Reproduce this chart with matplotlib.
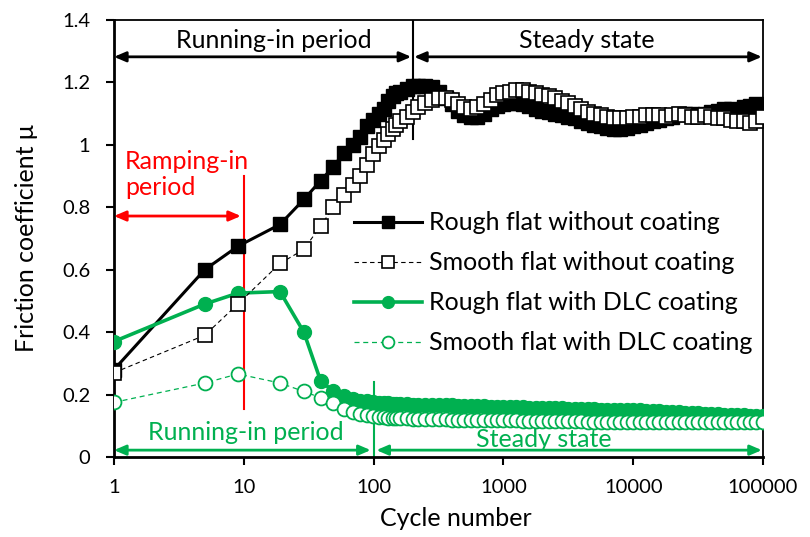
import matplotlib
matplotlib.use("Agg")
import matplotlib.pyplot as plt

plt.rcParams["font.family"] = ["Lato", "DejaVu Sans"]

GREEN = "#00B050"
RED = "#FF0000"

# cycle numbers at which friction was sampled
cycles = [1, 5, 9, 19, 29, 39, 49, 59, 69, 79, 89, 99,
          110, 120, 130, 140, 150, 160, 180, 200, 220, 250, 280, 320, 360, 400,
          450, 500, 560, 630, 710, 800, 900,
          1000, 1120, 1260, 1410, 1580, 1780, 2000, 2240, 2510, 2820, 3160, 3550,
          3980, 4470, 5010, 5620, 6310, 7080, 7940, 8910,
          10000, 11200, 12600, 14100, 15800, 17800, 20000, 22400, 25100, 28200,
          31600, 35500, 39800, 44700, 50100, 56200, 63100, 70800, 79400, 89100,
          100000]

rough_plain = [0.28, 0.60, 0.675, 0.745, 0.825, 0.885, 0.93, 0.975, 1.00, 1.025, 1.06, 1.08,
               1.10, 1.115, 1.14, 1.155, 1.165, 1.17, 1.18, 1.19, 1.19, 1.19, 1.185, 1.17, 1.15, 1.13,
               1.11, 1.095, 1.09, 1.09, 1.10, 1.115, 1.125,
               1.13, 1.135, 1.135, 1.13, 1.125, 1.115, 1.11, 1.105, 1.10, 1.095, 1.09, 1.085,
               1.075, 1.07, 1.065, 1.06, 1.055, 1.05, 1.05, 1.055,
               1.06, 1.065, 1.07, 1.075, 1.08, 1.085, 1.09, 1.10, 1.10, 1.10,
               1.095, 1.10, 1.105, 1.11, 1.115, 1.115, 1.11, 1.12, 1.125, 1.13,
               1.12]

smooth_plain = [0.27, 0.39, 0.49, 0.62, 0.665, 0.74, 0.80, 0.84, 0.87, 0.90, 0.935, 0.97,
                0.995, 1.015, 1.035, 1.05, 1.065, 1.075, 1.09, 1.105, 1.12, 1.135, 1.145, 1.15, 1.15, 1.145,
                1.13, 1.12, 1.115, 1.12, 1.13, 1.145, 1.16,
                1.165, 1.17, 1.175, 1.175, 1.17, 1.165, 1.16, 1.155, 1.15, 1.14, 1.135, 1.125,
                1.115, 1.105, 1.10, 1.095, 1.09, 1.085, 1.085, 1.085,
                1.09, 1.09, 1.095, 1.095, 1.095, 1.09, 1.095, 1.10, 1.095, 1.09,
                1.09, 1.095, 1.09, 1.085, 1.085, 1.08, 1.075, 1.075, 1.07, 1.075,
                1.09]

rough_dlc = [0.37, 0.49, 0.525, 0.53, 0.40, 0.245, 0.21, 0.195, 0.185, 0.18, 0.178, 0.175,
             0.174, 0.173, 0.172, 0.171, 0.170, 0.170, 0.169, 0.168, 0.168, 0.167, 0.166, 0.166, 0.165, 0.165,
             0.164, 0.164, 0.163, 0.163, 0.162, 0.161, 0.161,
             0.160, 0.160, 0.159, 0.159, 0.158, 0.158, 0.157, 0.157, 0.156, 0.156, 0.155, 0.155,
             0.154, 0.153, 0.153, 0.152, 0.152, 0.151, 0.151, 0.150,
             0.150, 0.149, 0.148, 0.147, 0.146, 0.145, 0.144, 0.143, 0.142, 0.141,
             0.140, 0.139, 0.138, 0.137, 0.136, 0.135, 0.134, 0.133, 0.132, 0.131,
             0.130]

smooth_dlc = [0.175, 0.237, 0.266, 0.237, 0.21, 0.19, 0.172, 0.155, 0.145, 0.138, 0.133, 0.13,
              0.128, 0.127, 0.126, 0.125, 0.125, 0.124, 0.124, 0.123, 0.123, 0.122, 0.122, 0.121, 0.121, 0.120,
              0.120, 0.120, 0.119, 0.119, 0.118, 0.118, 0.118,
              0.117, 0.117, 0.117, 0.116, 0.116, 0.116, 0.115, 0.115, 0.115, 0.114, 0.114, 0.114,
              0.114, 0.113, 0.113, 0.113, 0.113, 0.113, 0.112, 0.112,
              0.112, 0.112, 0.112, 0.111, 0.111, 0.111, 0.111, 0.111, 0.111, 0.111,
              0.111, 0.111, 0.111, 0.111, 0.111, 0.111, 0.112, 0.112, 0.112, 0.112,
              0.112]

labels = ["Rough flat without coating", "Smooth flat without coating",
          "Rough flat with DLC coating", "Smooth flat with DLC coating"]
xticks = [1, 10, 100, 1000, 10000, 100000]
xticklabels = ["1", "10", "100", "1000", "10000", "100000"]
yticks = [0, 0.2, 0.4, 0.6, 0.8, 1.0, 1.2, 1.4]
yticklabels = ["0", "0.2", "0.4", "0.6", "0.8", "1", "1.2", "1.4"]

fig = plt.figure(figsize=(8.1, 5.37), dpi=100)
ax = fig.add_axes([114 / 810, 80 / 537, 649 / 810, 437 / 537])

ax.plot(cycles, rough_plain, color="black", lw=2.2, marker="s", ms=10.5,
        mfc="black", mec="black", label=labels[0], zorder=3)
ax.plot(cycles, smooth_plain, color="black", lw=0.8, ls=(0, (4, 3)), marker="s", ms=10,
        mfc="white", mec="black", mew=1.2, label=labels[1], zorder=4)
ax.plot(cycles, rough_dlc, color=GREEN, lw=2.6, marker="o", ms=10,
        mfc=GREEN, mec=GREEN, label=labels[2], zorder=3)
ax.plot(cycles, smooth_dlc, color=GREEN, lw=0.9, ls=(0, (4, 3)), marker="o", ms=10,
        mfc="white", mec=GREEN, mew=1.3, label=labels[3], zorder=4)

ax.set_xscale("log")
ax.set_xlim(1, 100000)
ax.set_ylim(0, 1.4)
ax.set_xticks(xticks)
ax.set_xticklabels(xticklabels)
ax.xaxis.set_minor_locator(matplotlib.ticker.NullLocator())
ax.set_yticks(yticks)
ax.set_yticklabels(yticklabels)
ax.tick_params(axis="both", labelsize=14.5, length=6, width=1.5, direction="out")
ax.tick_params(axis="y", pad=11)
ax.tick_params(axis="x", pad=10)
for side in ["left", "bottom"]:
    ax.spines[side].set_linewidth(2)
for side in ["top", "right"]:
    ax.spines[side].set_linewidth(1.3)

ax.set_ylabel("Friction coefficient μ", fontsize=18)
ax.set_xlabel("Cycle number", fontsize=18)
ax.yaxis.set_label_coords(-0.117, 0.5)
ax.xaxis.set_label_coords(0.526, -0.115)

# period annotations
arrow = dict(arrowstyle="<|-|>,head_length=0.7,head_width=0.3", lw=2, shrinkA=0, shrinkB=0)
ax.annotate("", xy=(1, 1.282), xytext=(195, 1.282), arrowprops=dict(arrow, color="black"))
ax.annotate("", xy=(205, 1.282), xytext=(98000, 1.282), arrowprops=dict(arrow, color="black"))
ax.plot([200, 200], [1.02, 1.4], color="black", lw=1.5)
ax.text(17, 1.335, "Running-in period", fontsize=18, ha="center", va="center")
ax.text(4370, 1.335, "Steady state", fontsize=18, ha="center", va="center")

ax.annotate("", xy=(1, 0.772), xytext=(9.5, 0.772), arrowprops=dict(arrow, color=RED))
ax.plot([10, 10], [0.155, 0.9], color=RED, lw=1.5)
ax.text(1.22, 0.905, "Ramping-in\nperiod", fontsize=18, color=RED, ha="left", va="center",
        linespacing=1.2)

ax.annotate("", xy=(1, 0.022), xytext=(95, 0.022), arrowprops=dict(arrow, color=GREEN))
ax.annotate("", xy=(105, 0.022), xytext=(98000, 0.022), arrowprops=dict(arrow, color=GREEN))
ax.plot([100, 100], [0, 0.24], color=GREEN, lw=1.5)
ax.text(10.3, 0.08, "Running-in period", fontsize=18, color=GREEN, ha="center", va="center")
ax.text(2040, 0.057, "Steady state", fontsize=18, color=GREEN, ha="center", va="center")

ax.legend(loc="upper left", bbox_to_anchor=(0.37, 0.562), frameon=False, fontsize=18,
          handlelength=2.7, handletextpad=0.3, labelspacing=0.68, markerscale=0.85,
          borderaxespad=0, borderpad=0)

fig.savefig("out.png", dpi=100)
